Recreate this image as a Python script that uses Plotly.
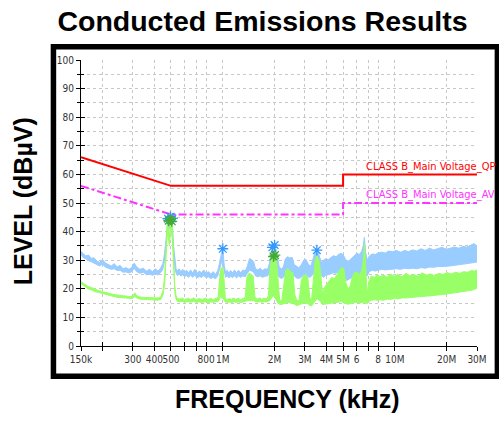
import math
import plotly.graph_objects as go

# ---------------- data (frequency in kHz, level in dBuV) ----------------
limit_freq = [150, 500, 5000, 5000, 30000]
qp_limit = [66, 56, 56, 60, 60]
av_limit = [56, 46, 46, 50, 50]

# Peak detector trace: envelope (hi / lo)
pk_freq = [150, 155, 160, 166, 172, 178, 185, 192, 200, 208, 216, 225, 234, 243, 253, 263, 274, 285, 296, 306,
           316, 330, 345, 360, 375, 390, 405, 420, 435, 448, 458, 467, 475, 482, 489, 496, 503, 510, 518, 526,
           535, 545, 557, 570, 585, 600, 615, 632, 650, 668, 688, 708, 730, 752, 775, 800, 825, 852, 880, 908,
           935, 958, 975, 990, 1005, 1020, 1038, 1060, 1085, 1110, 1140, 1170, 1200, 1235, 1270, 1310, 1350, 1390, 1430, 1470,
           1510, 1550, 1600, 1650, 1700, 1760, 1820, 1870, 1910, 1950, 1990, 2030, 2080, 2130, 2190, 2250, 2310, 2380, 2450, 2530,
           2600, 2680, 2760, 2850, 2950, 3050, 3150, 3250, 3350, 3450, 3550, 3650, 3750, 3850, 3950, 4100, 4250, 4400, 4550, 4700,
           4850, 5000, 5150, 5300, 5450, 5600, 5800, 6000, 6200, 6400, 6550, 6650, 6750, 6900, 7100, 7400, 7700, 8000, 8400, 8800,
           9200, 9700, 10200, 10800, 11400, 12000, 12700, 13400, 14200, 15000, 15900, 16800, 17800, 18800, 19900, 21000, 22200, 23500, 24800, 26200,
           27600, 28800, 30000]
pk_hi = [33.0, 32.2, 31.5, 31.8, 30.6, 30.9, 29.8, 29.2, 30.2, 29.0, 28.6, 28.0, 28.8, 27.6, 28.2, 27.0, 27.4, 26.8, 27.5, 29.0,
         27.6, 26.8, 27.2, 26.2, 26.8, 26.0, 27.0, 26.2, 27.2, 28.8, 32.0, 37.0, 42.5, 45.0, 43.5, 45.5, 45.0, 41.5, 35.0, 29.5,
         27.0, 26.2, 27.0, 26.0, 26.8, 25.8, 26.5, 25.6, 26.6, 25.5, 26.8, 25.4, 26.2, 25.6, 26.6, 25.4, 26.0, 25.2, 26.0, 25.0,
         26.4, 29.0, 32.0, 33.5, 32.5, 28.0, 25.8, 26.5, 25.4, 26.4, 25.6, 26.6, 25.5, 26.5, 25.6, 26.6, 26.2, 28.0, 30.6, 30.2,
         29.5, 27.0, 26.6, 27.2, 26.4, 27.0, 26.8, 29.0, 33.0, 34.5, 35.0, 34.0, 31.0, 27.5, 27.0, 27.6, 30.5, 31.2, 30.8, 31.0,
         28.5, 27.8, 27.4, 28.2, 30.0, 30.2, 28.4, 28.0, 30.5, 33.0, 33.5, 31.5, 29.0, 30.0, 30.5, 30.2, 30.8, 31.6, 31.2, 32.0,
         32.4, 32.0, 30.5, 29.5, 30.0, 30.8, 31.5, 32.4, 32.0, 33.0, 35.0, 38.0, 33.0, 30.0, 31.5, 32.2, 32.0, 32.6, 32.8, 32.5,
         33.2, 33.0, 33.4, 32.8, 33.4, 33.0, 33.6, 33.2, 34.0, 33.4, 34.2, 33.6, 34.0, 34.5, 33.8, 34.2, 34.6, 34.2, 34.8, 34.6,
         35.2, 35.8, 35.0]
pk_lo = [32.0, 30.8, 30.5, 29.8, 29.5, 29.0, 28.5, 28.0, 28.6, 27.6, 27.2, 26.8, 27.0, 26.4, 26.5, 25.8, 25.9, 25.5, 26.0, 27.2,
         26.0, 25.4, 25.8, 24.9, 25.2, 24.7, 25.3, 24.8, 25.6, 26.8, 29.5, 34.0, 40.0, 43.0, 41.0, 43.5, 42.5, 38.0, 31.0, 27.5,
         25.5, 24.6, 25.2, 24.5, 24.8, 24.3, 24.6, 24.0, 24.8, 24.0, 24.8, 23.8, 24.3, 24.0, 24.6, 23.9, 24.2, 23.6, 24.0, 23.5,
         24.6, 26.5, 28.5, 30.0, 28.0, 25.0, 24.0, 24.6, 23.8, 24.4, 23.9, 24.6, 23.8, 24.5, 24.0, 24.5, 24.2, 25.5, 26.5, 26.2,
         25.8, 24.5, 24.2, 24.5, 24.0, 24.4, 24.5, 25.5, 27.0, 28.0, 28.0, 27.5, 25.5, 24.0, 23.6, 24.0, 25.0, 25.2, 25.0, 25.2,
         24.5, 23.8, 23.6, 24.0, 24.8, 25.0, 24.0, 24.2, 25.2, 26.5, 27.0, 26.0, 24.5, 24.0, 24.6, 25.0, 25.5, 25.6, 25.4, 26.0,
         26.2, 24.5, 23.0, 23.0, 23.5, 24.0, 24.5, 25.0, 25.2, 25.5, 25.5, 26.0, 25.0, 24.5, 26.0, 26.5, 26.2, 26.5, 26.8, 26.6,
         26.8, 26.8, 27.0, 26.8, 27.2, 27.0, 27.2, 27.0, 27.4, 27.2, 27.6, 27.5, 27.8, 27.8, 27.8, 28.0, 28.2, 28.4, 28.6, 28.6,
         29.0, 29.2, 29.4]

# Average detector trace: envelope (hi / lo)
av_freq = [150, 157, 165, 173, 181, 190, 200, 210, 221, 233, 245, 258, 272, 286, 300, 308, 316, 330, 345, 362,
           380, 400, 420, 437, 450, 460, 468, 476, 484, 490, 497, 504, 511, 518, 526, 535, 545, 560, 580, 600,
           625, 650, 675, 700, 730, 760, 790, 820, 850, 880, 910, 940, 960, 975, 990, 1005, 1020, 1035, 1060, 1090,
           1120, 1150, 1190, 1230, 1270, 1310, 1350, 1380, 1420, 1460, 1500, 1540, 1590, 1640, 1690, 1740, 1790, 1840, 1880, 1930,
           1970, 2010, 2050, 2090, 2140, 2200, 2260, 2320, 2400, 2480, 2560, 2620, 2700, 2780, 2860, 2940, 3030, 3120, 3200, 3280,
           3370, 3450, 3530, 3620, 3700, 3800, 3900, 4000, 4150, 4300, 4450, 4600, 4750, 4900, 5050, 5200, 5350, 5500, 5650, 5800,
           6000, 6200, 6400, 6550, 6650, 6750, 6900, 7050, 7300, 7600, 7900, 8200, 8600, 9000, 9400, 9900, 10400, 11000, 11600, 12200,
           12900, 13600, 14400, 15200, 16100, 17000, 18000, 19000, 20100, 21300, 22500, 23800, 25100, 26500, 27900, 29000, 30000]
av_hi = [22.5, 21.6, 20.8, 20.4, 19.8, 19.4, 19.0, 18.6, 18.4, 18.0, 17.8, 17.6, 17.4, 17.3, 17.4, 18.6, 17.6, 17.1, 17.0, 16.9,
         16.8, 16.9, 16.8, 17.2, 19.5, 25.0, 35.0, 43.5, 41.0, 38.5, 44.5, 43.5, 40.0, 31.0, 21.0, 17.6, 16.6, 16.4, 16.8, 16.2,
         16.7, 16.3, 16.8, 16.2, 16.6, 16.2, 16.8, 16.2, 16.7, 16.2, 16.6, 17.0, 24.0, 27.0, 27.5, 26.5, 22.0, 16.6, 16.2, 16.6,
         16.2, 16.8, 16.3, 16.7, 16.2, 16.6, 17.0, 24.0, 25.5, 25.0, 24.5, 17.0, 16.4, 16.8, 16.3, 16.7, 16.4, 17.5, 27.0, 31.0,
         31.5, 31.8, 30.5, 22.0, 16.0, 15.8, 22.0, 26.5, 27.0, 26.0, 25.5, 18.0, 15.8, 16.0, 23.0, 24.5, 25.0, 24.0, 17.0, 16.0,
         24.0, 30.5, 31.5, 30.0, 26.0, 18.0, 20.5, 21.5, 22.5, 24.0, 23.5, 25.0, 26.0, 27.5, 27.0, 22.0, 20.0, 21.0, 24.0, 25.5,
         26.0, 25.0, 26.0, 30.0, 36.0, 28.0, 18.0, 22.5, 24.5, 24.0, 25.0, 24.2, 24.8, 24.0, 25.2, 24.4, 25.0, 24.2, 25.4, 24.6,
         25.0, 24.4, 25.6, 24.8, 25.2, 24.6, 25.4, 25.0, 25.6, 25.2, 25.8, 25.4, 26.0, 25.8, 26.4, 26.2, 26.6]
av_lo = [21.8, 20.8, 20.0, 19.6, 19.0, 18.7, 18.3, 17.9, 17.7, 17.3, 17.0, 16.9, 16.7, 16.6, 16.6, 17.4, 16.8, 16.4, 16.3, 16.2,
         16.1, 16.1, 16.0, 16.3, 18.0, 22.0, 31.0, 40.0, 37.0, 35.0, 41.0, 40.0, 36.0, 27.0, 19.0, 16.5, 15.6, 15.4, 15.6, 15.3,
         15.5, 15.3, 15.6, 15.3, 15.4, 15.2, 15.5, 15.2, 15.4, 15.3, 15.4, 15.6, 16.5, 18.0, 16.5, 17.0, 15.8, 15.4, 15.2, 15.4,
         15.2, 15.4, 15.3, 15.4, 15.2, 15.4, 15.6, 16.0, 16.0, 15.8, 16.0, 15.6, 15.3, 15.5, 15.3, 15.5, 15.4, 15.6, 16.0, 17.0,
         17.5, 16.8, 16.0, 15.0, 14.6, 14.5, 14.8, 15.0, 15.2, 15.0, 15.0, 14.5, 14.2, 14.4, 14.8, 15.0, 15.0, 14.8, 14.2, 14.0,
         15.0, 16.0, 16.5, 16.0, 15.5, 14.5, 14.6, 14.5, 14.8, 15.0, 15.0, 15.2, 15.4, 15.5, 15.0, 14.8, 14.6, 14.8, 15.0, 15.2,
         15.4, 15.0, 15.0, 15.2, 15.5, 14.8, 14.8, 15.5, 16.0, 16.2, 16.0, 16.2, 16.0, 16.4, 16.3, 16.6, 16.5, 16.8, 16.8, 17.0,
         17.0, 17.2, 17.3, 17.4, 17.5, 17.6, 17.8, 18.0, 18.2, 18.4, 18.6, 18.8, 19.0, 19.2, 19.5, 19.8, 20.2]

# Marked peaks (asterisks)
pk_mark_freq = [480, 497, 510, 1000, 1940, 2000, 3520]
pk_mark_val = [44.5, 45.2, 44.6, 34.0, 34.5, 35.3, 33.5]
av_mark_freq = [485, 497, 505, 1970, 2010]
av_mark_val = [43.8, 44.2, 43.6, 31.3, 31.8]

tick_vals = [150, 200, 300, 400, 500, 600, 700, 800, 1000, 2000, 3000, 4000, 5000, 6000, 7000, 8000, 10000, 20000, 30000]
tick_text = ['150k', '', '300', '400', '500', '', '', '800', '1M', '2M', '3M', '4M', '5M', '6', '', '8', '10M', '20M', '30M']

# ---------------- figure ----------------
W, H = 499, 424
ML, MR, MT, MB = 81, 20, 60, 78
PW, PH = W - ML - MR, H - MT - MB

def px_x(p):
    return (p - ML) / PW

def px_y(p):
    return (H - MB - p) / PH

BLUE = '#99CCFF'
GREEN = '#99FF66'
narrow = 'DejaVu Sans Condensed, Liberation Sans Narrow, Arial Narrow, Liberation Sans, sans-serif'
bold = 'Liberation Sans, Arial, sans-serif'
XRANGE = [math.log10(150), math.log10(30000)]

fig = go.Figure()

# peak band
fig.add_trace(go.Scatter(x=pk_freq, y=pk_lo, mode='lines', line=dict(color=BLUE, width=1), showlegend=False, hoverinfo='skip'))
fig.add_trace(go.Scatter(x=pk_freq, y=pk_hi, mode='lines', line=dict(color=BLUE, width=1), fill='tonexty',
                         fillcolor=BLUE, showlegend=False, hoverinfo='skip'))
# average band
fig.add_trace(go.Scatter(x=av_freq, y=av_lo, mode='lines', line=dict(color=GREEN, width=1), showlegend=False, hoverinfo='skip'))
fig.add_trace(go.Scatter(x=av_freq, y=av_hi, mode='lines', line=dict(color=GREEN, width=1), fill='tonexty',
                         fillcolor=GREEN, showlegend=False, hoverinfo='skip'))

# limits
fig.add_trace(go.Scatter(x=limit_freq, y=qp_limit, mode='lines', line=dict(color='#FF0000', width=2), showlegend=False))
fig.add_trace(go.Scatter(x=limit_freq, y=av_limit, mode='lines', line=dict(color='#FF33FF', width=2, dash='8px,3px,3px,3px'),
                         showlegend=False))

# asterisk markers
fig.add_trace(go.Scatter(x=pk_mark_freq, y=pk_mark_val, mode='markers',
                         marker=dict(symbol='asterisk-open', size=9, color='#3399FF', line=dict(color='#3399FF', width=1.3)),
                         showlegend=False))
fig.add_trace(go.Scatter(x=av_mark_freq, y=av_mark_val, mode='markers',
                         marker=dict(symbol='asterisk-open', size=9, color='#44AA33', line=dict(color='#44AA33', width=1.3)),
                         showlegend=False))

# invisible trace so the overlay axes (inner tick halves) are drawn
fig.add_trace(go.Scatter(x=[150], y=[0], xaxis='x2', yaxis='y2', mode='markers', marker=dict(opacity=0),
                         showlegend=False, hoverinfo='skip'))

# limit labels
fig.add_annotation(x=px_x(365), y=62.6, xref='paper', yref='y', text='CLASS B_Main Voltage_QP', showarrow=False,
                   xanchor='left', yanchor='middle', font=dict(family=narrow, size=11, color='#FF0000'))
fig.add_annotation(x=px_x(365), y=52.8, xref='paper', yref='y', text='CLASS B_Main Voltage_AV', showarrow=False,
                   xanchor='left', yanchor='middle', font=dict(family=narrow, size=11, color='#FF33FF'))

# axis titles
fig.add_annotation(x=px_x(289), y=px_y(399), xref='paper', yref='paper', text='<b>FREQUENCY (kHz)</b>', showarrow=False,
                   xanchor='center', yanchor='middle', font=dict(family=bold, size=25, color='black'))
fig.add_annotation(x=px_x(23), y=px_y(201), xref='paper', yref='paper', text='<b>LEVEL (dBµV)</b>', showarrow=False,
                   textangle=-90, xanchor='center', yanchor='middle', font=dict(family=bold, size=25, color='black'))

# black frame
fig.add_shape(type='rect', xref='paper', yref='paper', x0=px_x(53.3), x1=px_x(499.5), y0=px_y(376.2), y1=px_y(46.7),
              line=dict(color='black', width=5.5), fillcolor='rgba(0,0,0,0)', layer='above')

tickfont = dict(family=narrow, size=10, color='#333333')
fig.update_layout(
    width=W, height=H,
    margin=dict(l=ML, r=MR, t=MT, b=MB),
    paper_bgcolor='white', plot_bgcolor='white',
    title=dict(text='<b>Conducted Emissions Results</b>', x=262.5 / W, xanchor='center', y=1 - 21 / H, yanchor='middle',
               font=dict(family=bold, size=28.5, color='black')),
    xaxis=dict(type='log', range=XRANGE, tickmode='array', tickvals=tick_vals, ticktext=tick_text,
               showgrid=True, gridcolor='#C8C8C8', griddash='dot', gridwidth=1, showline=True, linecolor='black', linewidth=1,
               ticks='outside', ticklen=4, tickcolor='black', zeroline=False, tickangle=0, tickfont=tickfont),
    yaxis=dict(range=[0, 100], tickmode='linear', tick0=0, dtick=10, showgrid=True, gridcolor='#C8C8C8', griddash='dot',
               gridwidth=1, showline=True, linecolor='black', linewidth=1, ticks='outside', ticklen=4, tickcolor='black',
               zeroline=False, tickfont=tickfont,
               minor=dict(dtick=5, showgrid=True, gridcolor='#C8C8C8', griddash='dot', ticks='outside', ticklen=3,
                          tickcolor='black')),
    xaxis2=dict(type='log', range=XRANGE, overlaying='x', side='bottom', tickmode='array', tickvals=tick_vals,
                showticklabels=False, showgrid=False, showline=False, zeroline=False, ticks='inside', ticklen=4,
                tickcolor='black'),
    yaxis2=dict(range=[0, 100], overlaying='y', side='left', tickmode='linear', tick0=0, dtick=10, showticklabels=False,
                showgrid=False, showline=False, zeroline=False, ticks='inside', ticklen=4, tickcolor='black',
                minor=dict(dtick=5, ticks='inside', ticklen=3, tickcolor='black', showgrid=False)),
)

fig.write_html('out.html', config={'displayModeBar': False}, post_script="document.body.style.margin='0px';")
